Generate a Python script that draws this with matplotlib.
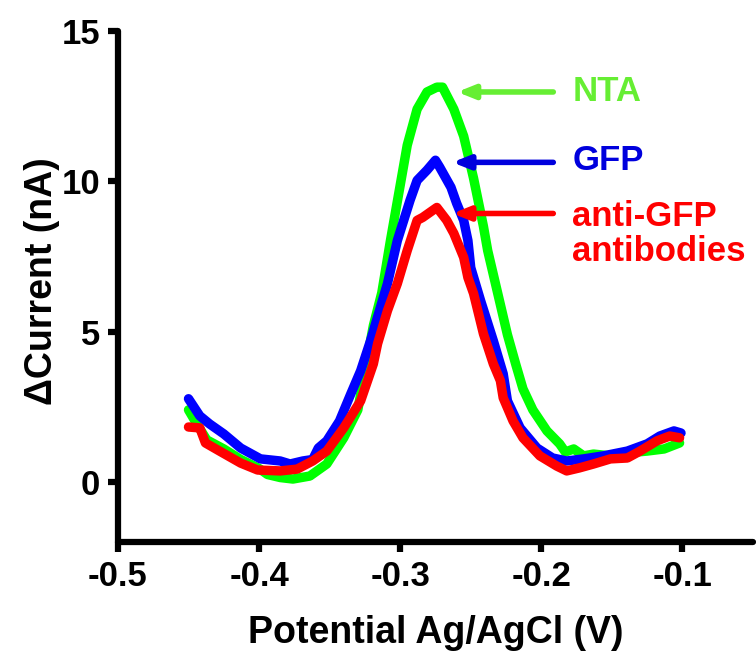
import numpy as np
import matplotlib
matplotlib.use("Agg")
import matplotlib.pyplot as plt

# values
nta_x = [-0.450, -0.445, -0.437, -0.425, -0.413, -0.400, -0.394, -0.385, -0.376, -0.364,
         -0.352, -0.340, -0.330, -0.325, -0.319, -0.313, -0.307, -0.301, -0.295, -0.288,
         -0.281, -0.274, -0.270, -0.262, -0.255, -0.248, -0.241, -0.238, -0.231, -0.224,
         -0.218, -0.213, -0.206, -0.196, -0.187, -0.183, -0.177, -0.170, -0.163, -0.151,
         -0.139, -0.125, -0.113, -0.102]
nta_y = [2.4, 2.0, 1.4, 1.1, 0.75, 0.45, 0.25, 0.15, 0.1, 0.2,
         0.6, 1.47, 2.4, 3.7, 5.2, 6.3, 8.0, 9.6, 11.2, 12.4,
         12.97, 13.13, 13.13, 12.4, 11.5, 10.1, 8.5, 7.7, 6.3, 4.9,
         3.9, 3.1, 2.4, 1.7, 1.27, 1.0, 1.1, 0.87, 0.93, 0.87,
         0.97, 1.03, 1.1, 1.3]

gfp_x = [-0.450, -0.442, -0.435, -0.425, -0.413, -0.399, -0.385, -0.378, -0.369, -0.362,
         -0.358, -0.352, -0.343, -0.335, -0.328, -0.321, -0.309, -0.302, -0.293, -0.288,
         -0.281, -0.275, -0.272, -0.264, -0.260, -0.255, -0.252, -0.250, -0.243, -0.234,
         -0.227, -0.224, -0.215, -0.203, -0.192, -0.182, -0.170, -0.156, -0.139, -0.125,
         -0.116, -0.106, -0.101]
gfp_y = [2.77, 2.2, 1.93, 1.6, 1.13, 0.77, 0.7, 0.6, 0.7, 0.75,
         1.13, 1.37, 2.03, 2.93, 3.7, 4.7, 6.6, 8.03, 9.37, 10.03,
         10.37, 10.7, 10.47, 9.8, 9.27, 8.7, 8.03, 7.13, 6.03, 4.7,
         3.6, 2.7, 1.8, 1.13, 0.8, 0.7, 0.77, 0.87, 1.03, 1.27,
         1.53, 1.7, 1.63]

anti_x = [-0.450, -0.442, -0.438, -0.428, -0.413, -0.401, -0.385, -0.373, -0.362, -0.352,
          -0.340, -0.328, -0.319, -0.316, -0.309, -0.302, -0.295, -0.288, -0.284, -0.274,
          -0.267, -0.262, -0.255, -0.252, -0.248, -0.241, -0.234, -0.229, -0.227, -0.220,
          -0.213, -0.201, -0.189, -0.182, -0.173, -0.163, -0.151, -0.139, -0.130, -0.118,
          -0.109, -0.102]
anti_y = [1.83, 1.8, 1.3, 1.03, 0.63, 0.4, 0.37, 0.43, 0.7, 1.03,
          1.8, 2.7, 3.93, 4.6, 5.7, 6.6, 7.7, 8.7, 8.8, 9.13,
          8.7, 8.27, 7.47, 6.8, 6.27, 4.93, 3.93, 3.37, 2.8, 2.03,
          1.47, 0.87, 0.53, 0.37, 0.47, 0.6, 0.77, 0.8, 1.03, 1.37,
          1.53, 1.47]

x_ticks = [-0.5, -0.4, -0.3, -0.2, -0.1]
x_labels = ["-0.5", "-0.4", "-0.3", "-0.2", "-0.1"]
y_ticks = [0, 5, 10, 15]

plt.rcParams['font.family'] = ['Liberation Sans', 'DejaVu Sans']
plt.rcParams['font.weight'] = 'bold'

fig = plt.figure(figsize=(7.56, 6.58), dpi=100)
ax = fig.add_axes([0.156, 0.176, 0.840, 0.777])

lw = 6.8
ax.plot(nta_x, nta_y, color='#00ff00', lw=lw, solid_capstyle='round', solid_joinstyle='round')
ax.plot(gfp_x, gfp_y, color='#0000ff', lw=lw, solid_capstyle='round', solid_joinstyle='round')
ax.plot(anti_x, anti_y, color='#ff0000', lw=lw, solid_capstyle='round', solid_joinstyle='round')

ax.set_xlim(-0.5, -0.05)
ax.set_ylim(-2, 15)
ax.set_xticks(x_ticks)
ax.set_xticklabels(x_labels)
ax.set_yticks(y_ticks)

for side in ['top', 'right']:
    ax.spines[side].set_visible(False)
for side in ['left', 'bottom']:
    ax.spines[side].set_linewidth(4.5)
    ax.spines[side].set_capstyle('round')
ax.tick_params(width=4.5, length=7, labelsize=25, pad=6)
for lab in ax.get_xticklabels() + ax.get_yticklabels():
    lab.set_fontweight('bold')

ax.set_xlabel("Potential Ag/AgCl (V)", fontsize=27, fontweight='bold', labelpad=16)
ax.set_ylabel("\u0394Current (nA)", fontsize=27, fontweight='bold')
ax.yaxis.set_label_coords(-0.092, 0.51)

# arrows and labels
notes = [("NTA", '#66ee33', 12.97, -0.2596, 12.97),
         ("GFP", '#0000dd', 10.63, -0.263, 10.7),
         ("anti-GFP\nantibodies", '#ff0000', 8.93, -0.263, 8.25)]
for text, col, ya, xtip, ytext in notes:
    ax.annotate("", xy=(xtip, ya), xytext=(-0.1915, ya),
                arrowprops=dict(arrowstyle='-|>,head_length=1.0,head_width=0.4',
                                color=col, lw=4, shrinkA=0, shrinkB=0))
    ax.text(-0.178, ytext, text, color=col, fontsize=25, fontweight='bold',
            va='center', ha='left', linespacing=1.1)

fig.savefig("out.png", dpi=100)
